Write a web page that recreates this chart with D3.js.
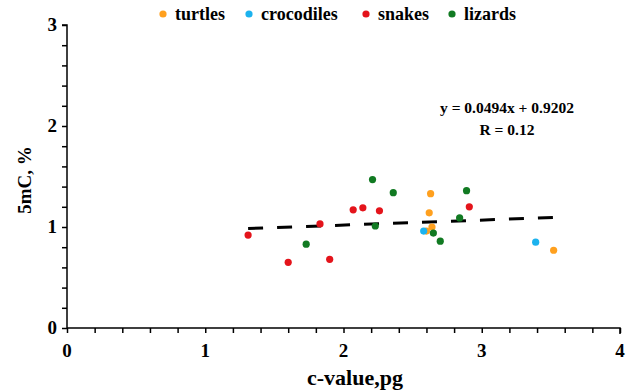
<!DOCTYPE html>
<html>
<head>
    <meta charset="utf-8">
    <title>5mC vs c-value</title>
    <script src="https://d3js.org/d3.v7.min.js"></script>
    <style>
        body { margin: 0; background: #fff; }
        text { font-family: "Liberation Serif", "Times New Roman", serif; font-weight: bold; fill: #000; }
    </style>
</head>
<body>
<script>

    // data: [c-value pg, 5mC %]
    var turtles = [[2.63, 1.33], [2.62, 1.14], [2.64, 1.00], [2.60, 0.96], [3.52, 0.77]];
    var crocodiles = [[2.58, 0.96], [3.39, 0.85]];
    var snakes = [[1.31, 0.92], [1.60, 0.65], [1.83, 1.03], [1.90, 0.68], [2.07, 1.17],
                  [2.14, 1.19], [2.26, 1.16], [2.91, 1.20]];
    var lizards = [[2.21, 1.47], [2.36, 1.34], [2.23, 1.01], [1.73, 0.83], [2.65, 0.94],
                   [2.70, 0.86], [2.89, 1.36], [2.84, 1.09]];

    var groupNames = ["turtles", "crocodiles", "snakes", "lizards"];
    var groupColors = ["#ffa01e", "#1cb2ee", "#e4141b", "#117a22"];

    var slope = 0.0494, intercept = 0.9202, rValue = 0.12;
    var xTicks = [0, 1, 2, 3, 4];
    var yTicks = [0, 1, 2, 3];

    var width = 640,
        height = 391;

    var svg = d3.select("body")
        .append("svg")
        .attr("width", width)
        .attr("height", height);

    var x = d3.scaleLinear().domain([0, 4]).range([67, 620]);
    var y = d3.scaleLinear().domain([0, 3]).range([328, 25]);

    //minor ticks every 0.2
    var xMinor = d3.range(0, 4.001, 0.2);
    var yMinor = d3.range(0, 3.001, 0.2);

    var xAxis = svg.append("g")
        .attr("transform", "translate(0," + y(0) + ")")
        .call(d3.axisBottom(x).tickValues(xMinor).tickSize(5).tickFormat(""));
    xAxis.select(".domain").attr("d", "M" + x(0) + ",0H" + x(4) + "V6");
    xAxis.selectAll("line").attr("stroke-width", 1.5);
    xAxis.select(".domain").attr("stroke-width", 1.5);

    var yAxis = svg.append("g")
        .attr("transform", "translate(" + x(0) + ",0)")
        .call(d3.axisLeft(y).tickValues(yMinor).tickSize(5).tickFormat(""));
    yAxis.select(".domain").attr("d", "M-5," + y(3) + "H0V" + y(0));
    yAxis.selectAll("line").attr("stroke-width", 1.5);
    yAxis.select(".domain").attr("stroke-width", 1.5);

    // tick labels
    svg.append("g").selectAll("text")
        .data(xTicks)
        .enter()
        .append("text")
        .attr("x", function (d) { return x(d); })
        .attr("y", 357)
        .attr("text-anchor", "middle")
        .style("font-size", "19px")
        .text(function (d) { return d; });

    svg.append("g").selectAll("text")
        .data(yTicks)
        .enter()
        .append("text")
        .attr("x", 57)
        .attr("y", function (d) { return y(d) + 6; })
        .attr("text-anchor", "end")
        .style("font-size", "19px")
        .text(function (d) { return d; });

    // axis titles
    svg.append("text")
        .attr("x", 355)
        .attr("y", 385)
        .attr("text-anchor", "middle")
        .style("font-size", "22px")
        .text("c-value,pg");

    svg.append("text")
        .attr("transform", "translate(31,180) rotate(-90)")
        .attr("text-anchor", "middle")
        .style("font-size", "19px")
        .text("5mC, %");

    // trend line
    var all = turtles.concat(crocodiles, snakes, lizards);
    var xr = d3.extent(all, function (d) { return d[0]; });
    svg.append("line")
        .attr("x1", x(xr[0]))
        .attr("y1", y(slope * xr[0] + intercept))
        .attr("x2", x(xr[1]))
        .attr("y2", y(slope * xr[1] + intercept))
        .attr("stroke", "#000")
        .attr("stroke-width", 3)
        .attr("stroke-dasharray", "15,14");

    // points
    var groups = [turtles, crocodiles, snakes, lizards];
    groups.forEach(function (pts, i) {
        svg.append("g").selectAll("circle")
            .data(pts)
            .enter()
            .append("circle")
            .attr("cx", function (d) { return x(d[0]); })
            .attr("cy", function (d) { return y(d[1]); })
            .attr("r", 3.6)
            .attr("fill", groupColors[i]);
    });

    // equation
    svg.append("text")
        .attr("x", 507)
        .attr("y", 113)
        .attr("text-anchor", "middle")
        .style("font-size", "15.5px")
        .text("y = " + slope + "x + " + intercept);
    svg.append("text")
        .attr("x", 507)
        .attr("y", 135)
        .attr("text-anchor", "middle")
        .style("font-size", "15.5px")
        .text("R = " + rValue);

    // legend
    var legX = [163, 249, 366, 452];
    var legend = svg.append("g").selectAll("g")
        .data(groupNames)
        .enter()
        .append("g")
        .attr("transform", function (d, i) { return "translate(" + legX[i] + ",14)"; });
    legend.append("circle")
        .attr("r", 3.6)
        .attr("fill", function (d, i) { return groupColors[i]; });
    legend.append("text")
        .attr("x", 12)
        .attr("y", 6)
        .style("font-size", "18px")
        .text(function (d) { return d; });

</script>
</body>
</html>
